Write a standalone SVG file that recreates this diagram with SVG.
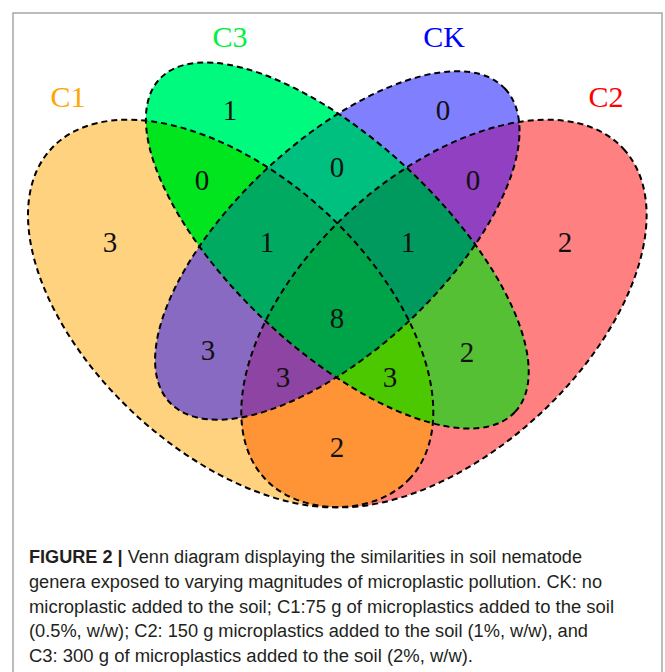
<svg xmlns="http://www.w3.org/2000/svg" xmlns:xlink="http://www.w3.org/1999/xlink" width="665" height="672" viewBox="0 0 665 672">
<style>
.num{font-family:"Liberation Serif","Times New Roman",serif;font-size:29px;fill:#111;text-anchor:middle}
.cat{font-family:"Liberation Serif","Times New Roman",serif;font-size:30px;text-anchor:middle}
.outline{fill:none;stroke:#000;stroke-width:2;stroke-dasharray:6,4}
.cap{font-family:"Liberation Sans",Arial,sans-serif;font-size:18px;fill:#231f20}
</style>
<defs>
<ellipse id="e1" cx="230.65" cy="313.5" rx="243.6" ry="138.9" transform="rotate(42.49 230.65 313.5)"/>
<ellipse id="e2" cx="443.95" cy="313.5" rx="243.6" ry="138.9" transform="rotate(-42.49 443.95 313.5)"/>
<ellipse id="e3" cx="337.3" cy="245.5" rx="243.5" ry="104.2" transform="rotate(43.15 337.3 245.5)"/>
<ellipse id="ek" cx="337.3" cy="245.5" rx="229.6" ry="104.2" transform="rotate(-43.06 337.3 245.5)"/>
<clipPath id="c1"><use xlink:href="#e1"/></clipPath>
<clipPath id="c2"><use xlink:href="#e2"/></clipPath>
<clipPath id="c3"><use xlink:href="#e3"/></clipPath>
<clipPath id="ck"><use xlink:href="#ek"/></clipPath>
</defs>
<rect x="13" y="13" width="649" height="670" fill="#fff" stroke="#a6a6a6" stroke-width="1.5"/>
<g id="region-fills">
<use xlink:href="#e1" fill="#FFD280"/>
<use xlink:href="#e2" fill="#FF8080"/>
<use xlink:href="#e3" fill="#00FA7D"/>
<use xlink:href="#ek" fill="#8080FF"/>
<use xlink:href="#e1" clip-path="url(#c3)" fill="#00E51E"/>
<use xlink:href="#e3" clip-path="url(#ck)" fill="#00C080"/>
<use xlink:href="#ek" clip-path="url(#c2)" fill="#9040C0"/>
<use xlink:href="#e1" clip-path="url(#ck)" fill="#886AC2"/>
<use xlink:href="#e1" clip-path="url(#c2)" fill="#FF9436"/>
<use xlink:href="#e3" clip-path="url(#c2)" fill="#56C034"/>
<g clip-path="url(#c1)"><use xlink:href="#e3" clip-path="url(#ck)" fill="#00AA60"/></g>
<g clip-path="url(#c2)"><use xlink:href="#e3" clip-path="url(#ck)" fill="#009A5E"/></g>
<g clip-path="url(#c1)"><use xlink:href="#ek" clip-path="url(#c2)" fill="#8E44A2"/></g>
<g clip-path="url(#c1)"><use xlink:href="#e3" clip-path="url(#c2)" fill="#4CC800"/></g>
<g clip-path="url(#c1)"><g clip-path="url(#c2)"><use xlink:href="#e3" clip-path="url(#ck)" fill="#00A448"/></g></g>
</g>
<g id="set-C1"><use xlink:href="#e1" class="outline"/><text class="cat" x="68" y="107" fill="#FFA500">C1</text></g>
<g id="set-C2"><use xlink:href="#e2" class="outline"/><text class="cat" x="606" y="107" fill="#FF0000">C2</text></g>
<g id="set-C3"><use xlink:href="#e3" class="outline"/><text class="cat" x="230" y="47" fill="#00F040">C3</text></g>
<g id="set-CK"><use xlink:href="#ek" class="outline"/><text class="cat" x="444" y="47" fill="#0000FF">CK</text></g>
<g id="counts">
<text class="num" x="110" y="252">3</text>
<text class="num" x="230" y="120">1</text>
<text class="num" x="443" y="120">0</text>
<text class="num" x="565" y="252">2</text>
<text class="num" x="202" y="190">0</text>
<text class="num" x="337" y="177">0</text>
<text class="num" x="473" y="190">0</text>
<text class="num" x="267" y="252">1</text>
<text class="num" x="408" y="252">1</text>
<text class="num" x="337" y="328">8</text>
<text class="num" x="208" y="360">3</text>
<text class="num" x="467" y="362">2</text>
<text class="num" x="283" y="387">3</text>
<text class="num" x="390" y="387">3</text>
<text class="num" x="337" y="457">2</text>
</g>
<g id="caption">
<text class="cap" x="29" y="563" textLength="553" lengthAdjust="spacingAndGlyphs"><tspan font-weight="bold">FIGURE 2 |</tspan> Venn diagram displaying the similarities in soil nematode</text>
<text class="cap" x="29" y="588" textLength="573" lengthAdjust="spacingAndGlyphs">genera exposed to varying magnitudes of microplastic pollution. CK: no</text>
<text class="cap" x="29" y="612.5" textLength="585" lengthAdjust="spacingAndGlyphs">microplastic added to the soil; C1:75 g of microplastics added to the soil</text>
<text class="cap" x="29" y="637" textLength="559" lengthAdjust="spacingAndGlyphs">(0.5%, w/w); C2: 150 g microplastics added to the soil (1%, w/w), and</text>
<text class="cap" x="29" y="662" textLength="444" lengthAdjust="spacingAndGlyphs">C3: 300 g of microplastics added to the soil (2%, w/w).</text>
</g>
</svg>
